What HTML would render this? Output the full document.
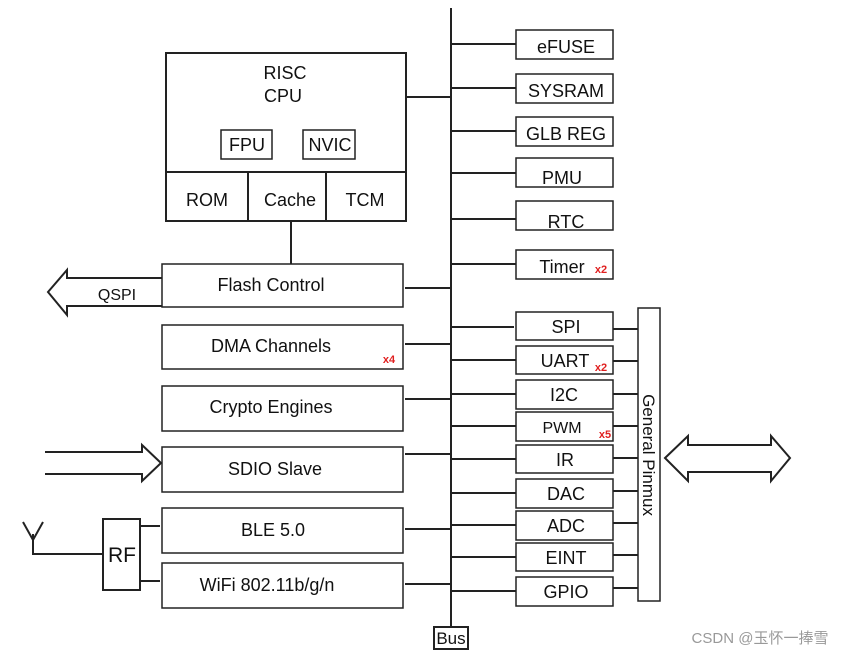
<!DOCTYPE html>
<html><head><meta charset="utf-8"><style>
html,body{margin:0;padding:0;background:#fff}
svg{display:block}
text{font-family:"Liberation Sans",Arial,sans-serif;fill:#111}
</style></head><body>
<svg width="862" height="657" viewBox="0 0 862 657" xmlns="http://www.w3.org/2000/svg">
<g stroke="#222" stroke-width="2" fill="none">
<!-- bus -->
<line x1="451" y1="8" x2="451" y2="628"/>
<rect x="434" y="627" width="34" height="22" stroke-width="2"/>
<!-- CPU -->
<rect x="166" y="53" width="240" height="168"/>
<line x1="166" y1="172" x2="406" y2="172"/>
<line x1="248" y1="172" x2="248" y2="221"/>
<line x1="326" y1="172" x2="326" y2="221"/>
<rect x="221" y="130" width="51" height="29" stroke-width="1.5"/>
<rect x="303" y="130" width="52" height="29" stroke-width="1.5"/>
<line x1="406" y1="97" x2="451" y2="97"/>
<line x1="291" y1="221" x2="291" y2="264"/>
<!-- left boxes -->
<g stroke-width="1.5">
<rect x="162" y="264" width="241" height="43"/>
<rect x="162" y="325" width="241" height="44"/>
<rect x="162" y="386" width="241" height="45"/>
<rect x="162" y="447" width="241" height="45"/>
<rect x="162" y="508" width="241" height="45"/>
<rect x="162" y="563" width="241" height="45"/>
</g>
<line x1="405" y1="288" x2="451" y2="288"/>
<line x1="405" y1="344" x2="451" y2="344"/>
<line x1="405" y1="399" x2="451" y2="399"/>
<line x1="405" y1="454" x2="451" y2="454"/>
<line x1="405" y1="529" x2="451" y2="529"/>
<line x1="405" y1="584" x2="451" y2="584"/>
<!-- QSPI arrow -->
<polyline points="162,278 67,278 67,270 48,292 67,315 67,306 162,306"/>
<!-- SDIO arrow -->
<polyline points="45,452 142,452 142,445 161,463 142,481 142,474 45,474"/>
<!-- antenna / RF -->
<polyline points="23,522 33,540 43,522"/>
<polyline points="33,534 33,554 103,554"/>
<rect x="103" y="519" width="37" height="71"/>
<line x1="140" y1="526" x2="160" y2="526"/>
<line x1="140" y1="581" x2="160" y2="581"/>
<!-- right boxes -->
<g stroke-width="1.5">
<rect x="516" y="30" width="97" height="29"/>
<rect x="516" y="74" width="97" height="29"/>
<rect x="516" y="117" width="97" height="29"/>
<rect x="516" y="158" width="97" height="29"/>
<rect x="516" y="201" width="97" height="29"/>
<rect x="516" y="250" width="97" height="29"/>
<rect x="516" y="312" width="97" height="28"/>
<rect x="516" y="346" width="97" height="28"/>
<rect x="516" y="380" width="97" height="29"/>
<rect x="516" y="412" width="97" height="29"/>
<rect x="516" y="445" width="97" height="28"/>
<rect x="516" y="479" width="97" height="29"/>
<rect x="516" y="511" width="97" height="29"/>
<rect x="516" y="543" width="97" height="28"/>
<rect x="516" y="577" width="97" height="29"/>
<rect x="638" y="308" width="22" height="293"/>
</g>
<line x1="451" y1="44" x2="516" y2="44"/>
<line x1="451" y1="88" x2="516" y2="88"/>
<line x1="451" y1="131" x2="516" y2="131"/>
<line x1="451" y1="173" x2="516" y2="173"/>
<line x1="451" y1="219" x2="516" y2="219"/>
<line x1="451" y1="264" x2="516" y2="264"/>
<line x1="451" y1="327" x2="514" y2="327"/>
<line x1="451" y1="360" x2="516" y2="360"/>
<line x1="451" y1="394" x2="516" y2="394"/>
<line x1="451" y1="426" x2="516" y2="426"/>
<line x1="451" y1="459" x2="516" y2="459"/>
<line x1="451" y1="493" x2="516" y2="493"/>
<line x1="451" y1="525" x2="516" y2="525"/>
<line x1="451" y1="557" x2="516" y2="557"/>
<line x1="451" y1="591" x2="516" y2="591"/>
<line x1="613" y1="329" x2="638" y2="329"/>
<line x1="613" y1="361" x2="638" y2="361"/>
<line x1="613" y1="394" x2="638" y2="394"/>
<line x1="613" y1="426" x2="638" y2="426"/>
<line x1="613" y1="458" x2="638" y2="458"/>
<line x1="613" y1="491" x2="638" y2="491"/>
<line x1="613" y1="523" x2="638" y2="523"/>
<line x1="613" y1="555" x2="638" y2="555"/>
<line x1="613" y1="588" x2="638" y2="588"/>
<!-- double arrow -->
<polygon points="665,458 688,436 688,445 771,445 771,436 790,458 771,481 771,472 688,472 688,481"/>
</g>
<g font-size="18" text-anchor="middle">
<text x="285" y="79">RISC</text>
<text x="283" y="102">CPU</text>
<text x="247" y="151">FPU</text>
<text x="330" y="151">NVIC</text>
<text x="207" y="206">ROM</text>
<text x="290" y="206">Cache</text>
<text x="365" y="206">TCM</text>
<text x="271" y="291">Flash Control</text>
<text x="271" y="352">DMA Channels</text>
<text x="271" y="413">Crypto Engines</text>
<text x="275" y="475">SDIO Slave</text>
<text x="273" y="536">BLE 5.0</text>
<text x="267" y="591">WiFi 802.11b/g/n</text>
<text x="122" y="562" font-size="21">RF</text>
<text x="117" y="300" font-size="16">QSPI</text>
<text x="566" y="53">eFUSE</text>
<text x="566" y="97">SYSRAM</text>
<text x="566" y="140">GLB REG</text>
<text x="562" y="184">PMU</text>
<text x="566" y="228">RTC</text>
<text x="562" y="273">Timer</text>
<text x="566" y="333">SPI</text>
<text x="565" y="367">UART</text>
<text x="564" y="401">I2C</text>
<text x="562" y="433" font-size="16">PWM</text>
<text x="565" y="466">IR</text>
<text x="566" y="500">DAC</text>
<text x="566" y="532">ADC</text>
<text x="566" y="564">EINT</text>
<text x="566" y="598">GPIO</text>
<text x="451" y="644" font-size="17">Bus</text>
</g>
<g font-size="11" font-weight="bold" fill="#e02020" text-anchor="middle">
<text x="601" y="273" style="fill:#e02020">x2</text>
<text x="601" y="371" style="fill:#e02020">x2</text>
<text x="605" y="438" style="fill:#e02020">x5</text>
<text x="389" y="363" style="fill:#e02020">x4</text>
</g>
<text x="0" y="0" font-size="17" text-anchor="middle" transform="translate(643,455) rotate(90)">General Pinmux</text>
<text x="760" y="643" font-size="15" text-anchor="middle" style="fill:#999;font-family:'Liberation Sans','Noto Sans CJK SC',sans-serif">CSDN @玉怀一捧雪</text>
</svg>
</body></html>
